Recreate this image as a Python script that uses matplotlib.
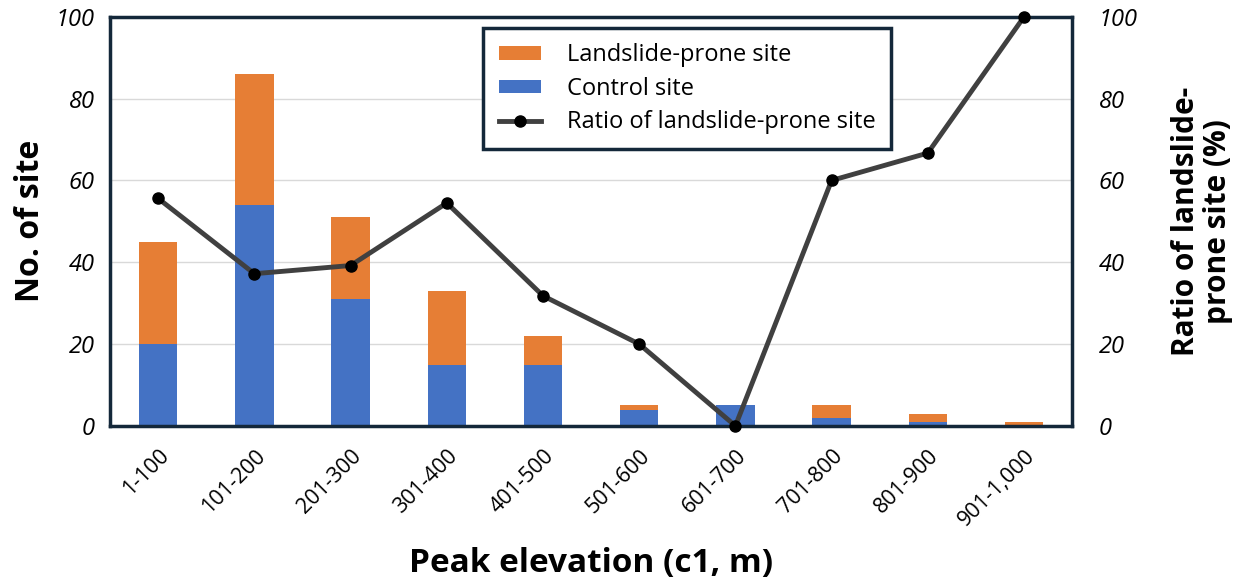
import matplotlib.pyplot as plt
import numpy as np

plt.rcParams['font.family'] = ['Open Sans', 'DejaVu Sans']

cats = ['1-100', '101-200', '201-300', '301-400', '401-500',
        '501-600', '601-700', '701-800', '801-900', '901-1,000']
control = [20, 54, 31, 15, 15, 4, 5, 2, 1, 0]
landslide = [25, 32, 20, 18, 7, 1, 0, 3, 2, 1]
ratio = [55.6, 37.2, 39.2, 54.5, 31.8, 20.0, 0.0, 60.0, 66.7, 100.0]

navy = '#14283a'
blue = '#4472c4'
orange = '#e67e35'

fig = plt.figure(figsize=(12.51, 5.81), dpi=100)
ax = fig.add_axes([0.088, 0.267, 0.769, 0.704])
x = np.arange(len(cats))

ax.bar(x, control, width=0.4, color=blue, label='Control site', zorder=2)
ax.bar(x, landslide, width=0.4, bottom=control, color=orange,
       label='Landslide-prone site', zorder=2)
ax.set_ylim(0, 100)
ax.set_xlim(-0.5, 9.5)
ax.set_yticks(range(0, 101, 20))
ax.grid(axis='y', color='#d9d9d9', lw=1, zorder=0)
ax.set_xticks(x)
ax.set_xticklabels(cats, rotation=45, ha='right', rotation_mode='anchor', fontsize=15.5)
for t in ax.get_yticklabels():
    t.set_fontstyle('italic')
    t.set_fontsize(17)
ax.tick_params(length=0, pad=11)
ax.tick_params(axis='x', pad=14)
for s in ax.spines.values():
    s.set_color(navy)
    s.set_linewidth(2.5)
ax.set_ylabel('No. of site', fontsize=23, fontweight='bold', labelpad=6)
ax.set_xlabel('Peak elevation (c1, m)', fontsize=24, fontweight='bold', labelpad=12)

ax2 = ax.twinx()
ax2.plot(x, ratio, color='#404040', lw=3.5, marker='o', ms=8,
         mfc='black', mec='black', label='Ratio of landslide-prone site',
         zorder=3, clip_on=False)
ax2.set_ylim(0, 100)
ax2.set_yticks(range(0, 101, 20))
for t in ax2.get_yticklabels():
    t.set_fontstyle('italic')
    t.set_fontsize(17)
ax2.tick_params(length=0, pad=19)
for s in ax2.spines.values():
    s.set_visible(False)
ax2.set_ylabel('Ratio of landslide-\nprone site (%)', fontsize=21.5,
               fontweight='bold', labelpad=24, linespacing=1.1)

h1, l1 = ax.get_legend_handles_labels()
h2, l2 = ax2.get_legend_handles_labels()
handles = [h1[1], h1[0], h2[0]]
labels = [l1[1], l1[0], l2[0]]
leg = ax2.legend(handles, labels, loc='upper left', bbox_to_anchor=(0.388, 0.973),
                 fontsize=17, frameon=True, fancybox=False, framealpha=1,
                 handlelength=1.8, handleheight=0.5, labelspacing=0.4,
                 borderpad=0.65, handletextpad=1.1, borderaxespad=0)
leg.get_frame().set_edgecolor(navy)
leg.get_frame().set_linewidth(2.5)

fig.savefig('out.png', dpi=100)
